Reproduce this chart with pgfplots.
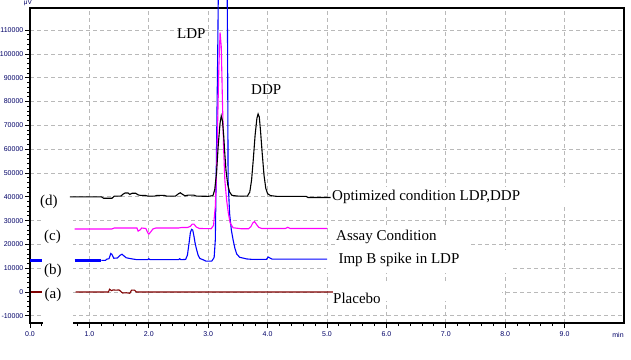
\documentclass[border=0pt]{standalone}
\usepackage{fontspec}
\setmainfont{Liberation Serif}
\newfontfamily\ticksans{Liberation Sans}
\usepackage{pgfplots}
\pgfplotsset{compat=1.18}
\definecolor{brn}{RGB}{128,0,0}
\definecolor{grd}{RGB}{185,185,185}
\definecolor{mag}{RGB}{255,0,255}
\definecolor{blu}{RGB}{0,0,255}
\begin{document}
\begin{tikzpicture}
\begin{axis}[
 set layers=standard,
 at={(30pt,36pt)}, anchor=south west,
 scale only axis, width=594pt, height=315pt,
 xmin=0, xmax=10, ymin=-13000, ymax=119300,
 clip=false,
 axis line style={line width=1.3pt},
 xtick={0,...,9}, ytick={-10000,0,...,110000},
 xticklabels={0.0,1.0,2.0,3.0,4.0,5.0,6.0,7.0,8.0,9.0},
 yticklabels={-10000,0,10000,20000,30000,40000,50000,60000,70000,80000,90000,100000,110000},
 minor x tick num=4, minor y tick num=4,
 tick align=outside, tick pos=left,
 major tick length=5pt, minor tick length=3pt,
 every tick/.style={black, line width=0.9pt},
 grid=major, major grid style={grd, line width=0.9pt, dash pattern=on 4pt off 3pt},
 scaled ticks=false,
 tick label style={font=\ticksans\fontsize{7}{8}\selectfont, text=blue!40!black},
 y tick label style={inner sep=1.5pt},
]
% white masks
\fill[white] (axis cs:0.227,-18000) rectangle (axis cs:0.732,44500);
\fill[white] (axis cs:0.02,37800) rectangle (axis cs:0.23,42200);
\fill[white] (axis cs:5.04,37000) rectangle (axis cs:9.96,44100);
\fill[white] (axis cs:5.14,17600) rectangle (axis cs:7.40,26900);
\fill[white] (axis cs:4.99,8000) rectangle (axis cs:8.12,17600);
\fill[white] (axis cs:5.07,-3800) rectangle (axis cs:7.95,3800);

% (a) placebo
\addplot[brn, line width=1.1pt] coordinates {(0.02,0) (0.21,0)};
\addplot[brn, line width=1.1pt] coordinates {
(0.77,0) (1.32,0) (1.34,1200) (1.37,600) (1.40,900) (1.45,800) (1.50,900)
(1.53,200) (1.56,-400) (1.62,-300) (1.68,-500) (1.71,800) (1.76,800) (1.79,0) (5.10,0)};

% (b) Imp B spike in LDP
\addplot[blu, line width=2.6pt] coordinates {(0,13200) (0.21,13200)};
\addplot[blu, line width=2.6pt] coordinates {(0.75,13300) (1.20,13300)};
\addplot[blu, line width=1.1pt] coordinates {
(1.20,13300) (1.27,13300) (1.29,13800) (1.33,14000) (1.36,16200) (1.38,15800)
(1.41,14200) (1.47,14300) (1.52,15500) (1.55,15900) (1.58,15200) (1.62,14400)
(1.70,14000) (1.80,13600) (1.98,13600) (2.00,14000) (2.02,13600) (2.50,13600)
(2.52,14000) (2.54,13600) (2.62,13700) (2.65,15500) (2.68,21000) (2.70,25000)
(2.72,26300) (2.74,26000) (2.76,23500) (2.78,20500) (2.80,18300) (2.83,15500)
(2.86,14100) (2.92,13500) (2.96,13000) (3.06,13000) (3.10,14500) (3.12,22000)
(3.14,60000) (3.16,100000) (3.17,125000) (3.32,125000) (3.327,100000)
(3.335,47000) (3.36,33000) (3.39,26000) (3.42,21800) (3.45,18300) (3.48,16000)
(3.53,14600) (3.65,13900) (3.75,13700) (3.98,13700) (4.01,14700) (4.04,14300)
(4.08,13800) (5.00,13800)};

% (c) Assay condition
\addplot[mag, line width=1.1pt] coordinates {
(0.75,26500) (1.38,26500) (1.42,26900) (1.80,26900) (1.82,25600) (1.85,26000)
(1.88,26900) (1.95,26700) (1.98,25000) (2.00,24300) (2.03,25200) (2.07,26500)
(2.12,26900) (2.50,26900) (2.55,27100) (2.65,27100) (2.70,27600) (2.73,28500)
(2.76,28500) (2.80,27300) (2.85,26700) (3.05,26600) (3.09,28000) (3.12,36000)
(3.14,50000) (3.16,72000) (3.18,95000) (3.20,109000) (3.22,103000) (3.24,80000)
(3.26,60000) (3.28,47000) (3.31,38600) (3.34,33000) (3.37,29000) (3.42,27000)
(3.55,26600) (3.68,26600) (3.72,27500) (3.75,29000) (3.78,29600) (3.81,28500)
(3.85,27200) (3.90,26700) (4.30,26700) (4.34,27200) (4.38,26700) (5.00,26700)};

% (d) Optimized condition
\addplot[black, line width=1.1pt] coordinates {
(0.67,40000) (1.20,40000) (1.24,39400) (1.38,39400) (1.42,40300) (1.53,40300)
(1.56,41000) (1.60,41600) (1.65,41600) (1.68,41000) (1.72,41500) (1.78,41500)
(1.82,40800) (1.86,40600) (1.94,40600) (1.98,40300) (2.10,40300) (2.14,40600)
(2.26,40600) (2.30,40300) (2.45,40300) (2.50,41300) (2.53,41700) (2.57,41000)
(2.61,40400) (2.66,40700) (2.76,40700) (2.80,40300) (3.00,40200) (3.08,40500)
(3.11,43000) (3.14,50000) (3.17,62000) (3.20,71000) (3.22,74000) (3.24,72000)
(3.26,66000) (3.28,58000) (3.30,51000) (3.33,45000) (3.36,42000) (3.40,40600)
(3.50,40300) (3.66,40300) (3.70,42000) (3.73,47000) (3.76,56000) (3.79,66000)
(3.82,73000) (3.84,74800) (3.86,73500) (3.88,68000) (3.91,58000) (3.94,49000)
(3.97,43500) (4.00,41300) (4.05,40500) (4.15,40200) (4.65,40200) (4.68,39700)
(5.06,39700)};
\end{axis}
\begin{scope}[every node/.style={anchor=base west, inner sep=0pt, font=\fontsize{15}{18}\selectfont}]
\node at (177pt,320.7pt) {LDP};
\node at (251pt,264pt) {DDP};
\node at (40pt,153.5pt) {(d)};
\node at (44pt,118.5pt) {(c)};
\node at (44pt,85pt) {(b)};
\node at (44.5pt,61pt) {(a)};
\node at (332pt,158pt) {Optimized condition LDP,DDP};
\node at (336pt,119pt) {Assay Condition};
\node at (338.3pt,95.7pt) {Imp B spike in LDP};
\node at (333pt,55.5pt) {Placebo};
\end{scope}
\node[inner sep=0pt, font=\ticksans\fontsize{6.5}{7}\selectfont, text=blue!40!black] at (28pt,356pt) {μV};
\node[inner sep=0pt, font=\ticksans\fontsize{7}{8}\selectfont, text=blue!40!black] at (618pt,24pt) {min};
\pgfresetboundingbox
\useasboundingbox (0,0) rectangle (631pt,359pt);
\end{tikzpicture}
\end{document}
